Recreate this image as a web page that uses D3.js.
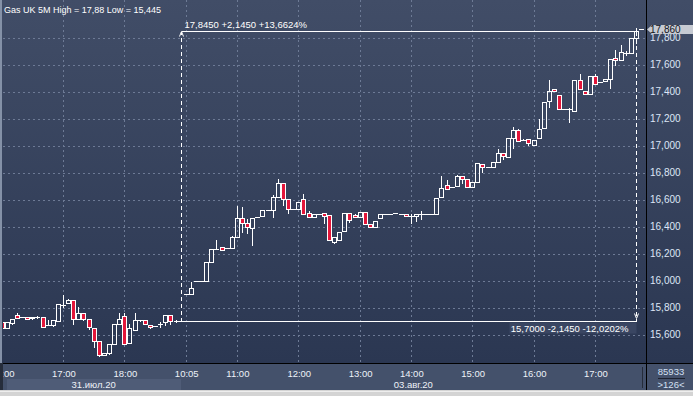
<!DOCTYPE html>
<html lang="ru">
<head>
<meta charset="utf-8">
<title>Gas UK 5M</title>
<script src="https://cdn.jsdelivr.net/npm/d3@7"></script>
<style>
  body { margin: 0; background: #d4d4d4; overflow: hidden; }
  svg { display: block; font-family: "Liberation Sans", Arial, sans-serif; }
</style>
</head>
<body>
<script>
// 5-минутные свечи, 31.07.20 (0..35) и 03.08.20 (36..125)
const opens = [
  15.696,15.647,15.688,15.745,15.730,15.730,15.730,15.732,15.730,15.669,
  15.671,15.703,15.821,15.836,15.856,15.718,15.758,15.713,15.647,15.553,
  15.452,15.462,15.529,15.676,15.738,15.536,15.632,15.710,15.706,15.669,
  15.664,15.681,15.696,15.743,15.703,15.700,
  15.898,15.898,15.996,15.996,
  15.994,16.135,16.237,16.247,16.242,16.239,16.321,16.461,16.424,16.387,
  16.473,16.476,16.520,16.520,16.616,16.720,16.602,16.530,16.528,16.602,
  16.499,16.472,16.494,16.499,16.486,16.289,16.302,16.371,16.499,16.486,
  16.469,16.506,16.418,16.400,16.462,16.492,16.492,16.499,16.492,16.492,
  16.481,16.477,16.492,16.492,16.492,16.492,16.621,16.708,16.695,16.703,
  16.774,16.754,16.691,16.728,16.861,16.841,16.839,16.880,16.942,16.917,
  17.054,17.115,17.043,17.046,17.006,17.054,17.127,17.327,17.419,17.372,
  17.269,17.269,17.258,17.483,17.404,17.380,17.512,17.468,17.475,17.490,
  17.645,17.631,17.687,17.682,17.797,17.860
];
const highs = [
  15.696,15.696,15.713,15.765,15.730,15.740,15.730,15.745,15.730,15.716,
  15.710,15.824,15.900,15.873,15.856,15.811,15.758,15.713,15.647,15.553,
  15.464,15.541,15.679,15.767,15.767,15.684,15.767,15.718,15.718,15.669,
  15.664,15.703,15.743,15.743,15.716,15.700,
  15.898,15.994,15.996,15.996,
  16.135,16.238,16.306,16.247,16.242,16.338,16.561,16.554,16.461,16.461,
  16.473,16.520,16.520,16.638,16.757,16.720,16.602,16.530,16.580,16.647,
  16.523,16.492,16.494,16.509,16.486,16.322,16.371,16.499,16.499,16.503,
  16.506,16.506,16.418,16.440,16.492,16.492,16.492,16.499,16.492,16.492,
  16.503,16.492,16.523,16.492,16.492,16.610,16.782,16.752,16.695,16.789,
  16.774,16.754,16.728,16.872,16.861,16.841,16.875,16.979,16.942,17.054,
  17.144,17.127,17.054,17.056,17.041,17.201,17.331,17.492,17.428,17.372,
  17.269,17.283,17.483,17.539,17.404,17.512,17.539,17.468,17.490,17.638,
  17.714,17.751,17.707,17.800,17.880,17.860
];
const lows = [
  15.647,15.647,15.679,15.721,15.730,15.713,15.716,15.721,15.659,15.669,
  15.666,15.703,15.802,15.836,15.679,15.718,15.708,15.644,15.511,15.445,
  15.448,15.455,15.529,15.676,15.529,15.536,15.632,15.703,15.676,15.647,
  15.664,15.659,15.671,15.676,15.696,15.700,
  15.898,15.898,15.996,15.996,
  15.994,16.135,16.237,16.229,16.242,16.239,16.321,16.358,16.355,16.264,
  16.473,16.476,16.520,16.468,16.616,16.562,16.503,16.530,16.528,16.492,
  16.472,16.472,16.494,16.425,16.300,16.277,16.302,16.371,16.437,16.469,
  16.469,16.418,16.398,16.400,16.462,16.492,16.492,16.499,16.492,16.477,
  16.430,16.444,16.457,16.492,16.492,16.492,16.621,16.676,16.695,16.703,
  16.720,16.691,16.691,16.728,16.802,16.841,16.839,16.880,16.898,16.917,
  16.984,17.036,17.043,17.004,17.006,17.054,17.127,17.288,17.402,17.269,
  17.269,17.177,17.258,17.421,17.380,17.380,17.453,17.468,17.475,17.428,
  17.598,17.631,17.670,17.682,17.760,17.860
];
const closes = [
  15.647,15.696,15.713,15.721,15.730,15.713,15.721,15.732,15.659,15.669,
  15.710,15.824,15.821,15.856,15.713,15.758,15.713,15.659,15.555,15.448,
  15.464,15.531,15.679,15.716,15.529,15.647,15.706,15.710,15.676,15.654,
  15.664,15.681,15.743,15.703,15.703,15.700,
  15.898,15.944,15.996,15.996,
  16.135,16.238,16.237,16.229,16.242,16.321,16.461,16.424,16.395,16.461,
  16.473,16.520,16.520,16.616,16.720,16.602,16.528,16.530,16.580,16.492,
  16.472,16.492,16.494,16.479,16.300,16.322,16.363,16.499,16.449,16.469,
  16.506,16.418,16.398,16.440,16.492,16.492,16.492,16.499,16.492,16.477,
  16.481,16.492,16.492,16.492,16.492,16.610,16.683,16.676,16.695,16.774,
  16.754,16.691,16.728,16.872,16.839,16.841,16.875,16.942,16.922,17.054,
  17.115,17.036,17.043,17.017,17.041,17.120,17.319,17.406,17.402,17.269,
  17.269,17.269,17.483,17.421,17.380,17.512,17.453,17.468,17.490,17.638,
  17.631,17.690,17.687,17.793,17.845,17.860
];

// ось времени
const timeTicks = [0, 12, 24, 36, 46, 58, 70, 80, 92, 104, 116];
const timeLabels = ["16:00", "17:00", "18:00", "10:05", "11:00", "12:00",
                    "13:00", "14:00", "15:00", "16:00", "17:00"];
const dayLabels = ["31.июл.20", "03.авг.20"];
const dayStarts = [1, 35];
const dayEnds = [35, 126];

// ось цен
const priceTicks = [15.6, 15.8, 16.0, 16.2, 16.4, 16.6, 16.8, 17.0, 17.2, 17.4, 17.6, 17.8];
const lastPrice = 17.86;

// линейка (измерение)
const measureFrom = 35, measureTo = 124;
const measureLow = 15.70, measureHigh = 17.845;

const volumeText = "85933";
const barsText = ">126<";

const W = 693, H = 396;
const plotRight = 646, plotBottom = 363;

const comma = (v, d) => d3.format("." + d + "f")(v).replace(".", ",");

const x = d3.scaleLinear().domain([0, 126]).range([1.6, 646.1]);
const y = d3.scaleLinear().domain([15.6, 17.8]).range([334.7, 37.5]);

const svg = d3.select("body").append("svg")
  .attr("width", W)
  .attr("height", H);

const defs = svg.append("defs");
const grad = defs.append("linearGradient")
  .attr("id", "bg").attr("x1", 0).attr("y1", 0).attr("x2", 0).attr("y2", 1);
grad.append("stop").attr("offset", "0%").attr("stop-color", "#414d67");
grad.append("stop").attr("offset", "100%").attr("stop-color", "#2b3752");

defs.append("clipPath").attr("id", "plot")
  .append("rect").attr("x", 3).attr("y", 0)
  .attr("width", plotRight - 3).attr("height", plotBottom);

// фон
svg.append("rect").attr("x", 0).attr("y", 0).attr("width", W).attr("height", plotBottom)
  .attr("fill", "url(#bg)");

// сетка
const grid = svg.append("g").attr("clip-path", "url(#plot)")
  .attr("stroke", "#6d7a95").attr("stroke-dasharray", "2,3")
  .attr("shape-rendering", "crispEdges");

grid.selectAll(".h").data(priceTicks).enter().append("line")
  .attr("x1", 3).attr("x2", plotRight)
  .attr("y1", d => Math.round(y(d)) + 0.5)
  .attr("y2", d => Math.round(y(d)) + 0.5);

grid.selectAll(".v").data(timeTicks).enter().append("line")
  .attr("y1", 0).attr("y2", plotBottom)
  .attr("x1", d => Math.round(x(d)) + 0.5)
  .attr("x2", d => Math.round(x(d)) + 0.5);

// свечи
const candles = opens.map((o, i) => ({ i, o, h: highs[i], l: lows[i], c: closes[i] }));

const cg = svg.append("g").attr("clip-path", "url(#plot)")
  .attr("shape-rendering", "crispEdges");

const candle = cg.selectAll("g").data(candles).enter().append("g");

candle.each(function (d) {
  const g = d3.select(this);
  const cx = Math.round(x(d.i));
  const yTop = Math.round(y(Math.max(d.o, d.c))) + 0.5;
  const yBot = Math.round(y(Math.min(d.o, d.c))) + 0.5;
  const yH = Math.round(y(d.h)) + 0.5;
  const yL = Math.round(y(d.l)) + 0.5;

  if (yH < yTop) {
    g.append("line").attr("x1", cx + 0.5).attr("x2", cx + 0.5)
      .attr("y1", yH).attr("y2", yTop).attr("stroke", "#fff");
  }
  if (yL > yBot) {
    g.append("line").attr("x1", cx + 0.5).attr("x2", cx + 0.5)
      .attr("y1", yBot).attr("y2", yL).attr("stroke", "#fff");
  }
  if (yBot - yTop < 1) {
    g.append("line").attr("x1", cx - 2).attr("x2", cx + 3)
      .attr("y1", yTop).attr("y2", yTop).attr("stroke", "#fff");
  } else {
    g.append("rect")
      .attr("x", cx - 1.5).attr("width", 4)
      .attr("y", yTop).attr("height", yBot - yTop)
      .attr("fill", d.c < d.o ? "#e3163a" : "none")
      .attr("stroke", "#fff");
  }
});

// линейка
const mx1 = Math.round(x(measureFrom)) + 0.5;
const mx2 = Math.round(x(measureTo)) + 0.5;
const myHi = Math.round(y(measureHigh)) + 0.5;
const myLo = Math.round(y(measureLow)) + 0.5;

const mg = svg.append("g").attr("stroke", "#fff").attr("fill", "none")
  .attr("shape-rendering", "crispEdges");
mg.append("line").attr("x1", mx1).attr("x2", mx2).attr("y1", myHi).attr("y2", myHi);
mg.append("line").attr("x1", mx1).attr("x2", mx2).attr("y1", myLo).attr("y2", myLo);
mg.append("line").attr("x1", mx1).attr("x2", mx1).attr("y1", myLo).attr("y2", myHi)
  .attr("stroke-dasharray", "4,3");
mg.append("line").attr("x1", mx2).attr("x2", mx2).attr("y1", myHi).attr("y2", myLo)
  .attr("stroke-dasharray", "4,3");
svg.append("polyline")
  .attr("points", [[mx1 - 2, myHi + 5], [mx1, myHi], [mx1 + 2, myHi + 5]].join(" "))
  .attr("fill", "none").attr("stroke", "#fff");
svg.append("polyline")
  .attr("points", [[mx2 - 2, myLo - 8], [mx2, myLo - 3], [mx2 + 2, myLo - 8]].join(" "))
  .attr("fill", "none").attr("stroke", "#fff");

const diff = measureHigh - measureLow;
svg.append("text")
  .attr("x", mx1 + 3).attr("y", myHi - 4)
  .attr("font-size", 9.5).attr("fill", "#fff")
  .text(comma(measureHigh, 4) + " +" + comma(diff, 4) + " +" + comma(diff / measureLow * 100, 4) + "%");

svg.append("rect")
  .attr("x", mx2 - 127).attr("y", myLo + 1).attr("width", 127).attr("height", 11)
  .attr("fill", "#3a4662");
svg.append("text")
  .attr("x", mx2 - 8).attr("y", myLo + 10.5)
  .attr("text-anchor", "end")
  .attr("font-size", 9.5).attr("fill", "#fff")
  .text(comma(measureLow, 4) + " -" + comma(diff, 4) + " -" + comma(diff / measureHigh * 100, 4) + "%");

// заголовок
const fmtShort = v => String(+v.toFixed(3)).replace(".", ",");
svg.append("text")
  .attr("x", 4).attr("y", 13)
  .attr("font-size", 9).attr("fill", "#fff")
  .text("Gas UK 5M High = " + fmtShort(d3.max(highs)) + " Low = " + fmtShort(d3.min(lows)));

// ось цен справа
svg.append("g").selectAll("text").data(priceTicks).enter().append("text")
  .attr("x", 650)
  .attr("y", d => y(d) + 3.5)
  .attr("font-size", 10).attr("fill", "#dde6f6")
  .attr("font-family", "'Liberation Sans Narrow', 'Liberation Sans', Arial, sans-serif")
  .text(d => comma(d, 3));

// метка последней цены
const yLast = y(lastPrice);
svg.append("polygon")
  .attr("points", [[647, yLast], [652, yLast - 4.5], [W, yLast - 4.5], [W, yLast + 4.5], [652, yLast + 4.5]].join(" "))
  .attr("fill", "#c6cad2");
svg.append("text")
  .attr("x", 650).attr("y", yLast + 3.5)
  .attr("font-size", 10).attr("fill", "#10141c")
  .attr("font-family", "'Liberation Sans Narrow', 'Liberation Sans', Arial, sans-serif")
  .text(comma(lastPrice, 3));

// нижняя панель
svg.append("rect").attr("x", 0).attr("y", plotBottom).attr("width", W).attr("height", 27)
  .attr("fill", "#44516b");
svg.append("rect")
  .attr("x", Math.round(x(dayStarts[0]))).attr("y", 379)
  .attr("width", Math.round(x(dayEnds[0])) - Math.round(x(dayStarts[0]))).attr("height", 11)
  .attr("fill", "#4f5c77");

svg.append("g").selectAll("text").data(timeTicks).enter().append("text")
  .attr("x", d => x(d) + 1)
  .attr("y", 377)
  .attr("text-anchor", "middle")
  .attr("font-size", 9.5).attr("fill", "#eef2f8")
  .text((d, i) => timeLabels[i]);

svg.append("g").selectAll("text").data(dayLabels).enter().append("text")
  .attr("x", (d, i) => (x(dayStarts[i]) + x(dayEnds[i])) / 2)
  .attr("y", 388)
  .attr("text-anchor", "middle")
  .attr("font-size", 9.5).attr("fill", "#eef2f8")
  .text(d => d);

svg.append("line").attr("x1", 642.5).attr("x2", 642.5).attr("y1", 367).attr("y2", 388)
  .attr("stroke", "#252c3a");

svg.append("text").attr("x", 671).attr("y", 375).attr("text-anchor", "middle")
  .attr("font-size", 9.5).attr("fill", "#d3e0f4").text(volumeText);
svg.append("line").attr("x1", 658).attr("x2", 685).attr("y1", 378.5).attr("y2", 378.5)
  .attr("stroke", "#1c2230");
svg.append("text").attr("x", 671).attr("y", 388).attr("text-anchor", "middle")
  .attr("font-size", 9.5).attr("fill", "#d3e0f4").text(barsText);

// рамки
svg.append("line").attr("x1", 0).attr("x2", W).attr("y1", plotBottom + 0.5).attr("y2", plotBottom + 0.5)
  .attr("stroke", "#000");
svg.append("line").attr("x1", plotRight + 0.5).attr("x2", plotRight + 0.5).attr("y1", 0).attr("y2", 390)
  .attr("stroke", "#000");
svg.append("rect").attr("x", 0).attr("y", 0).attr("width", 2).attr("height", plotBottom)
  .attr("fill", "#8491a7");
svg.append("rect").attr("x", 0).attr("y", plotBottom).attr("width", 3).attr("height", 27)
  .attr("fill", "#262d3b");
svg.append("rect").attr("x", 0).attr("y", 390).attr("width", W).attr("height", 6)
  .attr("fill", "#d4d4d4");
svg.append("line").attr("x1", 0).attr("x2", W).attr("y1", 391.5).attr("y2", 391.5)
  .attr("stroke", "#eeeeee");
</script>
</body>
</html>
